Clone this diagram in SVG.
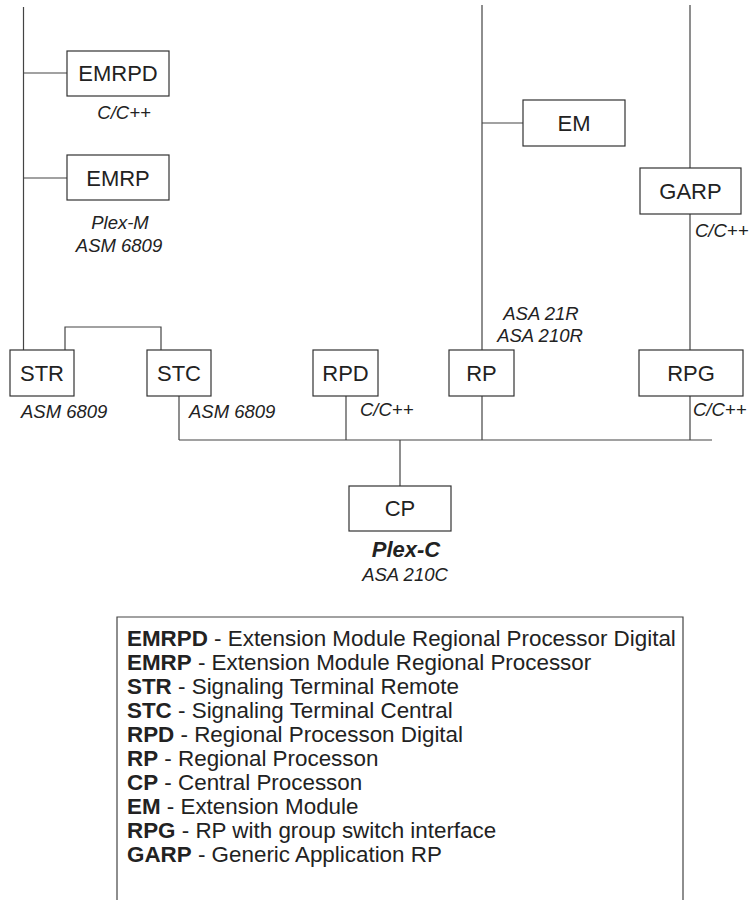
<svg xmlns="http://www.w3.org/2000/svg" width="752" height="900" viewBox="0 0 752 900">
<style>
  .box { fill: #fff; stroke: #333; stroke-width: 1.2; }
  .wire { fill: none; stroke: #444; stroke-width: 1.2; }
  .lbl { font-family: "Liberation Sans", Arial, sans-serif; font-size: 22px; fill: #222; text-anchor: middle; }
  .it { font-family: "Liberation Sans", Arial, sans-serif; font-size: 18.5px; font-style: italic; fill: #222; }
  .mid { text-anchor: middle; }
  .leg { font-family: "Liberation Sans", Arial, sans-serif; font-size: 22.4px; fill: #222; }
  .b { font-weight: bold; }
</style>
<rect width="752" height="900" fill="#fff"/>
<g id="connectors">
  <path class="wire" d="M23.5 7 V350"/>
  <path class="wire" d="M23.5 73 H67"/>
  <path class="wire" d="M23.5 178 H67"/>
  <path class="wire" d="M65 350 V327 H161 V350"/>
  <path class="wire" d="M179 396 V440"/>
  <path class="wire" d="M346 396 V440"/>
  <path class="wire" d="M482 5 V350 M482 396 V440"/>
  <path class="wire" d="M482 123 H523"/>
  <path class="wire" d="M690 5 V168 M690 214 V350 M690 396 V440"/>
  <path class="wire" d="M179 440 H712"/>
  <path class="wire" d="M400 440 V486"/>
</g>
<g id="EMRPD">
  <rect class="box" x="67" y="51" width="102" height="45"/>
  <text class="lbl" x="118" y="81">EMRPD</text>
  <text class="it mid" x="124" y="119">C/C++</text>
</g>
<g id="EMRP">
  <rect class="box" x="67" y="155" width="102" height="45"/>
  <text class="lbl" x="118" y="186">EMRP</text>
  <text class="it mid" x="120" y="229">Plex-M</text>
  <text class="it mid" x="119" y="252">ASM 6809</text>
</g>
<g id="STR">
  <rect class="box" x="10" y="350" width="64" height="46"/>
  <text class="lbl" x="42" y="381">STR</text>
  <text class="it" x="21" y="418">ASM 6809</text>
</g>
<g id="STC">
  <rect class="box" x="147" y="350" width="64" height="46"/>
  <text class="lbl" x="179" y="381">STC</text>
  <text class="it" x="189" y="418">ASM 6809</text>
</g>
<g id="RPD">
  <rect class="box" x="313" y="350" width="65" height="46"/>
  <text class="lbl" x="345.5" y="381">RPD</text>
  <text class="it" x="360" y="416">C/C++</text>
</g>
<g id="RP">
  <rect class="box" x="449" y="350" width="65" height="46"/>
  <text class="lbl" x="481.5" y="381">RP</text>
  <text class="it mid" x="541" y="320">ASA 21R</text>
  <text class="it mid" x="540" y="342">ASA 210R</text>
</g>
<g id="EM">
  <rect class="box" x="523" y="100" width="102" height="46"/>
  <text class="lbl" x="574" y="131">EM</text>
</g>
<g id="GARP">
  <rect class="box" x="640" y="168" width="101" height="46"/>
  <text class="lbl" x="690.5" y="199">GARP</text>
  <text class="it" x="695" y="237">C/C++</text>
</g>
<g id="RPG">
  <rect class="box" x="639" y="350" width="104" height="46"/>
  <text class="lbl" x="691" y="381">RPG</text>
  <text class="it" x="693" y="416">C/C++</text>
</g>
<g id="CP">
  <rect class="box" x="349" y="486" width="102" height="45"/>
  <text class="lbl" x="400" y="516">CP</text>
  <text class="it mid b" x="406" y="557" style="font-size:22px">Plex-C</text>
  <text class="it mid" x="405" y="581">ASA 210C</text>
</g>
<g id="legend">
  <path class="wire" d="M117 905 V617 H683 V905"/>
  <text class="leg" x="127" y="646"><tspan class="b">EMRPD</tspan> - Extension Module Regional Processor Digital</text>
  <text class="leg" x="127" y="670"><tspan class="b">EMRP</tspan> - Extension Module Regional Processor</text>
  <text class="leg" x="127" y="694"><tspan class="b">STR</tspan> - Signaling Terminal Remote</text>
  <text class="leg" x="127" y="718"><tspan class="b">STC</tspan> - Signaling Terminal Central</text>
  <text class="leg" x="127" y="742"><tspan class="b">RPD</tspan> - Regional Processon Digital</text>
  <text class="leg" x="127" y="766"><tspan class="b">RP</tspan> - Regional Processon</text>
  <text class="leg" x="127" y="790"><tspan class="b">CP</tspan> - Central Processon</text>
  <text class="leg" x="127" y="814"><tspan class="b">EM</tspan> - Extension Module</text>
  <text class="leg" x="127" y="838"><tspan class="b">RPG</tspan> - RP with group switch interface</text>
  <text class="leg" x="127" y="862"><tspan class="b">GARP</tspan> - Generic Application RP</text>
</g>
</svg>
